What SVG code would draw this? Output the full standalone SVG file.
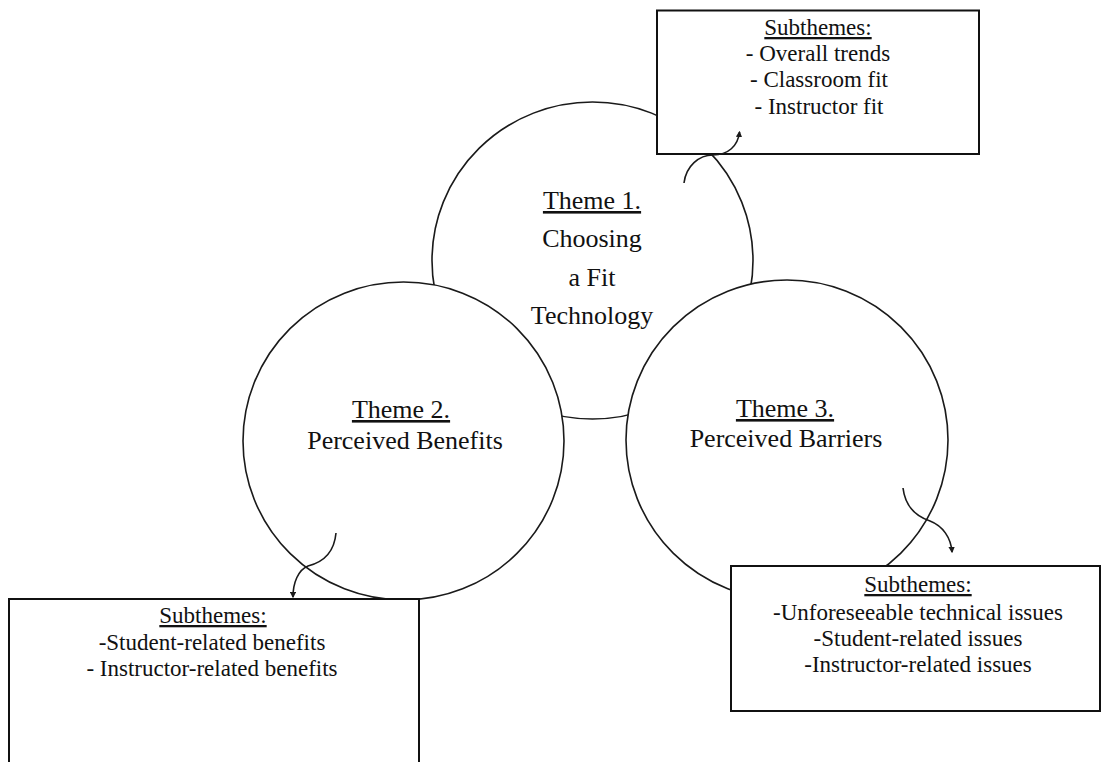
<svg xmlns="http://www.w3.org/2000/svg" width="1103" height="762" viewBox="0 0 1103 762">
<defs>
<style>
.circ{fill:#fff;stroke:#1a1a1a;stroke-width:1.6}
.box{fill:#fff;stroke:#111;stroke-width:2}
.t{font-family:"Liberation Serif","Times New Roman",serif;fill:#111;text-anchor:middle}
.big{font-size:26px}
.sm{font-size:23px}
.u{text-decoration:underline}
.arr{fill:none;stroke:#1a1a1a;stroke-width:1.6;marker-end:url(#ah)}
</style>
<marker id="ah" viewBox="0 0 10 10" refX="8" refY="5" markerWidth="4" markerHeight="4" orient="auto" markerUnits="strokeWidth">
<path d="M0,0 L10,5 L0,10 Z" fill="#1a1a1a"/>
</marker>
</defs>
<rect width="1103" height="762" fill="#fff"/>
<g id="theme1">
<ellipse class="circ" cx="592.5" cy="260.5" rx="160.5" ry="158.5"/>
</g>
<g id="theme2">
<ellipse class="circ" cx="403.5" cy="441" rx="160.5" ry="159"/>
<text class="t big u" x="401" y="418">Theme 2.</text>
<text class="t big" x="405" y="449">Perceived Benefits</text>
</g>
<g id="theme3">
<ellipse class="circ" cx="787" cy="440" rx="161" ry="160"/>
<text class="t big u" x="785" y="417">Theme 3.</text>
<text class="t big" x="786" y="447">Perceived Barriers</text>
</g>
<g id="theme1-label">
<text class="t big u" x="592" y="209">Theme 1.</text>
<text class="t big" x="592" y="247">Choosing</text>
<text class="t big" x="592" y="286">a Fit</text>
<text class="t big" x="592" y="324">Technology</text>
</g>
<g id="sub1">
<rect class="box" x="657" y="10.5" width="322" height="143.5"/>
<text class="t sm u" x="818" y="35">Subthemes:</text>
<text class="t sm" x="818" y="61">- Overall trends</text>
<text class="t sm" x="819" y="87">- Classroom fit</text>
<text class="t sm" x="819" y="114">- Instructor fit</text>
</g>
<g id="sub2">
<rect class="box" x="9" y="599" width="410" height="170"/>
<text class="t sm u" x="213" y="623">Subthemes:</text>
<text class="t sm" x="212" y="650">-Student-related benefits</text>
<text class="t sm" x="212" y="676">- Instructor-related benefits</text>
</g>
<g id="sub3">
<rect class="box" x="731" y="566" width="369" height="145"/>
<text class="t sm u" x="918" y="592">Subthemes:</text>
<text class="t sm" x="918" y="620">-Unforeseeable technical issues</text>
<text class="t sm" x="918" y="646">-Student-related issues</text>
<text class="t sm" x="918" y="672">-Instructor-related issues</text>
</g>
<g id="connectors">
<path class="arr" d="M684,183 C686,166 699,155 713,155 C728,155 738,146 739.5,132"/>
<path class="arr" d="M336,533 C334,555 320,563 308,566 C298,570 293,583 293,597"/>
<path class="arr" d="M903,488 C905,505 915,516 930,521 C943,526 951,538 952,552"/>
</g>
</svg>
